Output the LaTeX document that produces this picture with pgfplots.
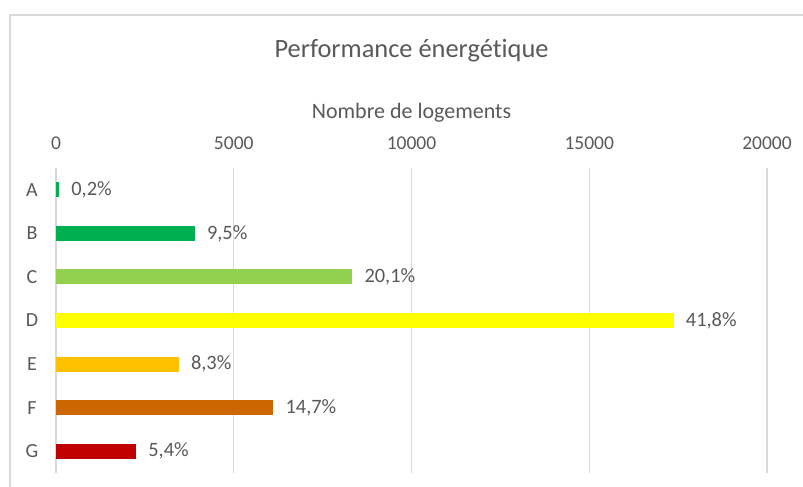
\documentclass[border=0pt]{standalone}
\usepackage{pgfplots}
\pgfplotsset{compat=1.18}
\usepackage{fontspec}
\setmainfont{Carlito}[Ligatures=NoCommon]
\definecolor{txt}{HTML}{595959}
\definecolor{grd}{HTML}{D9D9D9}
\definecolor{cA}{HTML}{00B050}
\definecolor{cB}{HTML}{00B050}
\definecolor{cC}{HTML}{92D050}
\definecolor{cD}{HTML}{FFFF00}
\definecolor{cE}{HTML}{FFC000}
\definecolor{cF}{HTML}{CC6600}
\definecolor{cG}{HTML}{C00000}
\begin{document}
\begin{tikzpicture}
\useasboundingbox (0,0) rectangle (401.5pt,-243.5pt);
\draw[grd, line width=1pt] (4.5pt,-7.5pt) -- (402pt,-7.5pt);
\draw[grd, line width=1pt] (5pt,-7.5pt) -- (5pt,-244pt);
\begin{axis}[
  at={(28pt,-84pt)}, anchor=north west,
  scale only axis, width=355.5pt, height=152.5pt,
  xmin=0, xmax=20000, ymin=-0.5, ymax=6.5, y dir=reverse,
  xtick={0,5000,10000,15000,20000},
  scaled x ticks=false,
  ytick={0,1,2,3,4,5,6}, yticklabels={A,B,C,D,E,F,G},
  xticklabel pos=upper,
  axis line style={draw=none},
  major tick length=0pt,
  xmajorgrids, grid style={grd, line width=0.6pt},
  /pgf/number format/assume math mode=true,
  /pgf/number format/1000 sep={},
  xticklabel style={font=\fontsize{9.75}{11}\selectfont, text=txt, anchor=center, yshift=12.5pt},
  yticklabel style={font=\fontsize{10}{12}\selectfont, text=txt, anchor=center, xshift=-12pt},
  title={Performance énergétique},
  title style={font=\fontsize{13.2}{15}\selectfont, text=txt, at={(0.5,1)}, anchor=center, yshift=52.5pt},
  xlabel={Nombre de logements},
  xlabel style={font=\fontsize{11}{13}\selectfont, text=txt, at={(0.5,1)}, anchor=center, yshift=27.5pt},
  xbar, bar width=7.5pt, bar shift=0pt,
  point meta=explicit symbolic,
  nodes near coords,
  nodes near coords style={font=\fontsize{10.2}{12}\selectfont, text=txt, anchor=west, inner sep=0pt, xshift=6pt},
]
\addplot[fill=cA, draw=none] coordinates {(83,0) [0,2\%]};
\addplot[fill=cB, draw=none] coordinates {(3900,1) [9,5\%]};
\addplot[fill=cC, draw=none] coordinates {(8330,2) [20,1\%]};
\addplot[fill=cD, draw=none] coordinates {(17370,3) [41,8\%]};
\addplot[fill=cE, draw=none] coordinates {(3450,4) [8,3\%]};
\addplot[fill=cF, draw=none] coordinates {(6110,5) [14,7\%]};
\addplot[fill=cG, draw=none] coordinates {(2250,6) [5,4\%]};
\end{axis}
\end{tikzpicture}
\end{document}
